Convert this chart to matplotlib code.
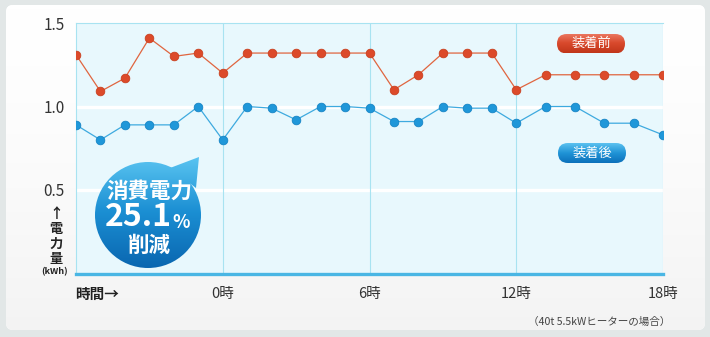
import numpy as np
import matplotlib
matplotlib.use('Agg')
import matplotlib.pyplot as plt
from matplotlib.patches import FancyBboxPatch, Circle, Polygon, Rectangle

plt.rcParams['font.family'] = ['Noto Sans CJK JP', 'DejaVu Sans']

# データ（時刻ごとの消費電力 kWh）
hours = [-6, -5, -4, -3, -2, -1, 0, 1, 2, 3, 4, 5, 6, 7, 8, 9, 10, 11, 12,
         13.2, 14.4, 15.6, 16.8, 18]
before = [1.31, 1.09, 1.17, 1.41, 1.30, 1.32, 1.20, 1.32, 1.32, 1.32, 1.32, 1.32,
          1.32, 1.10, 1.19, 1.32, 1.32, 1.32, 1.10, 1.19, 1.19, 1.19, 1.19, 1.19]
after = [0.89, 0.80, 0.89, 0.89, 0.89, 1.00, 0.80, 1.00, 0.99, 0.92, 1.00, 1.00,
         0.99, 0.91, 0.91, 1.00, 0.99, 0.99, 0.90, 1.00, 1.00, 0.90, 0.90, 0.83]
x_ticks = [0, 6, 12, 18]
x_labels = ['0時', '6時', '12時', '18時']
y_ticks = [0.5, 1.0, 1.5]
y_labels = ['0.5', '1.0', '1.5']

W, H = 710, 337
fig = plt.figure(figsize=(W / 100, H / 100), dpi=100)

# 背景（ピクセル座標）
bg = fig.add_axes([0, 0, 1, 1], zorder=0)
bg.set_xlim(0, W)
bg.set_ylim(H, 0)
bg.axis('off')
bg.add_patch(Rectangle((0, 0), W, H, color='#e2e7e7'))
panel = FancyBboxPatch((6, 5), W - 11, H - 12, boxstyle='round,pad=0,rounding_size=7',
                       facecolor='white', edgecolor='none')
bg.add_patch(panel)
grad = np.linspace(0, 1, 256).reshape(-1, 1) ** 1.5
im = bg.imshow(grad, extent=(0, W, H, 0), cmap=matplotlib.colors.LinearSegmentedColormap.from_list(
    'g', ['#ffffff', '#f3f3f3']), aspect='auto', zorder=1)
im.set_clip_path(panel)

# メインのグラフ
y0, y15 = 273.5, 23
ax = fig.add_axes([76 / W, (H - y0) / H, (663 - 76) / W, (y0 - y15) / H], zorder=1)
ax.set_facecolor('#e8f8fd')
ax.set_xlim(-6, 18)
ax.set_ylim(0, 1.5)
for s in ['left', 'top', 'right']:
    ax.spines[s].set_color('#a8e3f1')
    ax.spines[s].set_linewidth(0.8)
ax.spines['right'].set_visible(False)
ax.spines['bottom'].set_color('#4ab6e4')
ax.spines['bottom'].set_linewidth(2.4)
for v in [0.5, 1.0]:
    ax.axhline(v, color='white', lw=2.4, zorder=1)
for v in x_ticks:
    ax.axvline(v, color='#a8e3f1', lw=0.8, zorder=1)

ax.plot(hours, before, color='#e0653f', lw=0.9, zorder=3)
ax.plot(hours, after, color='#3eaadf', lw=0.9, zorder=3)
ax.plot(hours, before, 'o', ms=6.2, mfc='#dc4a2a', mec='#c9401f', mew=0.6, zorder=4)
ax.plot(hours, after, 'o', ms=6.2, mfc='#1f97d9', mec='#1684c5', mew=0.6, zorder=4)

ax.set_xticks(x_ticks)
ax.set_xticklabels(x_labels, fontsize=10.5, color='#333333')
ax.set_yticks(y_ticks)
ax.set_yticklabels(y_labels, fontsize=11, color='#333333')
ax.tick_params(length=0)
ax.tick_params(axis='x', pad=9.5)
ax.tick_params(axis='y', pad=8)

# オーバーレイ（バッジ・凡例・ラベル）
ov = fig.add_axes([0, 0, 1, 1], zorder=5)
ov.set_xlim(0, W)
ov.set_ylim(H, 0)
ov.axis('off')
ov.patch.set_alpha(0)

ov.text(97, 294, '時間→', fontsize=10.5, fontweight='bold', ha='center', va='center', color='#222222')
ov.text(56, 214, '↑', fontsize=10, fontweight='bold', ha='center', va='center', color='#222222')
for i, ch in enumerate('電力量'):
    ov.text(56, 229 + i * 15, ch, fontsize=9.5, fontweight='bold', ha='center', va='center', color='#222222')
ov.text(55, 272, '(kWh)', fontsize=6.5, fontweight='bold', ha='center', va='center', color='#222222')
ov.text(599, 322, '（40t 5.5kWヒーターの場合）', fontsize=7.6, ha='center', va='center', color='#444444')

# 吹き出しバッジ
badge_cmap = matplotlib.colors.LinearSegmentedColormap.from_list('b', ['#5cc6f2', '#1b8fd3', '#0a66b0'])
bgrad = np.linspace(0, 1, 256).reshape(-1, 1)
circ = Circle((148, 215), 53, facecolor='none', edgecolor='none')
tail = Polygon([[170, 168], [199, 157], [196, 188]], facecolor='none', edgecolor='none')
ov.add_patch(circ)
ov.add_patch(tail)
for p in (circ, tail):
    bim = ov.imshow(bgrad, extent=(90, 205, 268, 155), cmap=badge_cmap, aspect='auto', zorder=6)
    bim.set_clip_path(p)
ov.text(149, 191, '消費電力', fontsize=15.5, fontweight='bold', color='white', ha='center', va='center', zorder=7)
ov.text(138, 217, '25.1', fontsize=23, fontweight='bold', color='white', ha='center', va='center', zorder=7)
ov.text(181, 222, '%', fontsize=13, fontweight='bold', color='white', ha='center', va='center', zorder=7)
ov.text(149, 245, '削減', fontsize=15.5, fontweight='bold', color='white', ha='center', va='center', zorder=7)

# 凡例（ピル）
def pill(x, y, w, h, colors, label):
    box = FancyBboxPatch((x, y), w, h, boxstyle='round,pad=0,rounding_size=%f' % (h / 2),
                         facecolor='none', edgecolor='none')
    ov.add_patch(box)
    cm = matplotlib.colors.LinearSegmentedColormap.from_list('p', colors)
    pim = ov.imshow(bgrad, extent=(x, x + w, y + h, y), cmap=cm, aspect='auto', zorder=6)
    pim.set_clip_path(box)
    ov.text(x + w / 2, y + h / 2, label, fontsize=9.5, color='white', ha='center', va='center', zorder=7)

pill(557, 34, 68, 19.5, ['#ec7c66', '#d9492c', '#c0361a'], '装着前')
pill(558, 143, 68, 20, ['#5cc2f0', '#1f93d6', '#0c70ba'], '装着後')

fig.savefig('out.png', dpi=100)
